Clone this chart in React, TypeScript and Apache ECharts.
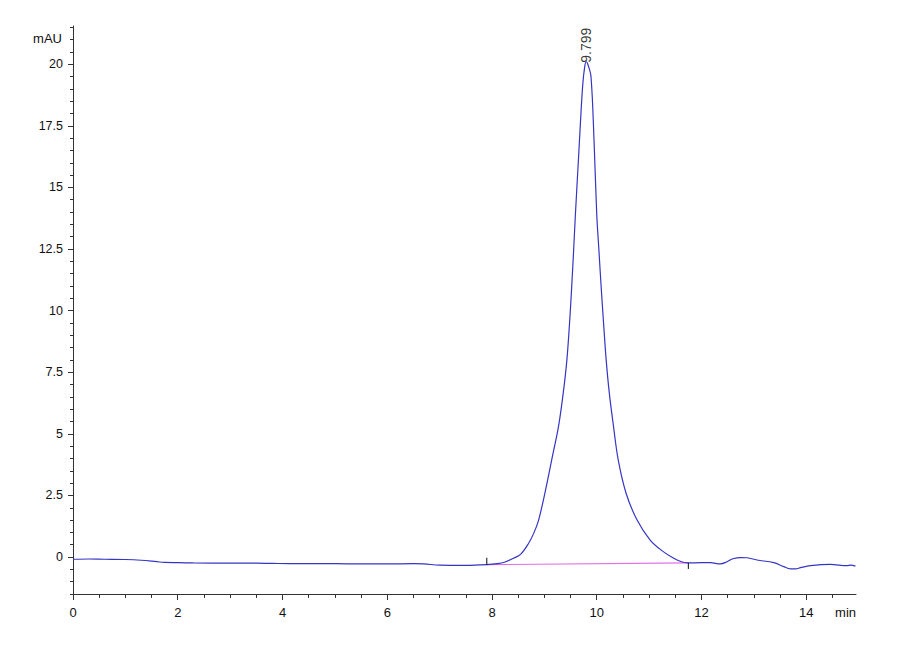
import React, { useEffect, useRef } from "react";
import * as echarts from "echarts";

// Retention time (min) and detector signal (mAU)
const times = [
  0.0, 0.3, 0.6, 1.0, 1.3, 1.6, 1.75, 2.0, 2.3, 3.0, 3.5, 3.8, 4.3, 5.0, 5.5, 6.0, 6.5, 6.7, 7.0, 7.5,
  7.9, 8.1, 8.25, 8.41, 8.55, 8.7, 8.8, 8.89, 9.01, 9.14, 9.27, 9.36, 9.43, 9.49, 9.525, 9.56, 9.59, 9.66,
  9.73, 9.77, 9.8, 9.83, 9.89, 9.95, 10.0, 10.04, 10.08, 10.13, 10.18, 10.24, 10.32, 10.41, 10.56, 10.77,
  11.02, 11.25, 11.47, 11.62, 11.75, 12.0, 12.17, 12.36, 12.49, 12.6, 12.75, 12.87, 13.06, 13.38, 13.57,
  13.7, 13.8, 13.89, 14.08, 14.46, 14.78, 14.85, 14.94,
];
const signal = [
  -0.09, -0.08, -0.09, -0.1, -0.13, -0.19, -0.22, -0.23, -0.24, -0.25, -0.25, -0.26, -0.27, -0.27, -0.28,
  -0.28, -0.27, -0.28, -0.33, -0.34, -0.31, -0.27, -0.2, -0.05, 0.12, 0.56, 0.98, 1.5, 2.59, 3.94, 5.3,
  6.65, 8.0, 9.8, 11.1, 12.5, 13.8, 16.5, 19.1, 19.9, 20.1, 20.0, 19.5, 16.8, 13.9, 12.5, 11.1, 9.5, 8.0,
  6.65, 5.3, 3.94, 2.59, 1.5, 0.69, 0.25, -0.05, -0.19, -0.24, -0.23, -0.23, -0.28, -0.19, -0.07, -0.02,
  -0.03, -0.12, -0.23, -0.39, -0.48, -0.48, -0.43, -0.35, -0.3, -0.35, -0.33, -0.37,
];

// Integration baseline (start / end) of the peak
const baselineTimes = [7.9, 11.75];
const baselineValues = [-0.31, -0.24];

// Peak annotation
const peakTime = 9.799;
const peakHeight = 20.1;
const peakLabel = "9.799";

// Axis ticks / labels
const xMajorTicks = [0, 2, 4, 6, 8, 10, 12, 14];
const yMajorTicks = [0, 2.5, 5, 7.5, 10, 12.5, 15, 17.5, 20];
const xMin = 0;
const xMax = 14.95;
const yMin = -1.5;
const yMax = 21.55;
const minorStep = 0.5;

const xMinorTicks: number[] = [];
for (let i = 0; xMin + i * minorStep <= xMax; i++) {
  const v = xMin + i * minorStep;
  if (!xMajorTicks.includes(v)) xMinorTicks.push(v);
}
const yMinorTicks: number[] = [];
for (let i = 0; yMin + i * minorStep <= yMax; i++) {
  const v = +(yMin + i * minorStep).toFixed(2);
  if (!yMajorTicks.includes(v)) yMinorTicks.push(v);
}

const FONT = "'Liberation Sans Narrow', 'Liberation Sans', Arial, sans-serif";
const LABEL_FONT = "'Liberation Sans', Arial, sans-serif";
const AXIS_COLOR = "#333";
const TEXT_COLOR = "#111";

export default function App() {
  const ref = useRef<HTMLDivElement>(null);

  useEffect(() => {
    document.body.style.margin = "0";
    if (!ref.current) return;
    const chart = echarts.init(ref.current, null, { renderer: "svg" });

    const lineData = times.map((t, i) => [t, signal[i]]);
    const baseData = baselineTimes.map((t, i) => [t, baselineValues[i]]);

    chart.setOption({
      animation: false,
      backgroundColor: "#fff",
      grid: { left: 73, right: 44, top: 26, bottom: 66 },
      xAxis: [
        {
          type: "value",
          min: xMin,
          max: xMax,
          position: "bottom",
          name: "min",
          nameLocation: "end",
          nameGap: 0,
          nameMoveOverlap: false,
          nameTextStyle: {
            color: TEXT_COLOR,
            fontFamily: FONT,
            fontSize: 13,
            align: "right",
            verticalAlign: "top",
            padding: [12, 0, 0, 0],
          },
          axisLine: { show: true, onZero: false, lineStyle: { color: AXIS_COLOR, width: 1 } },
          axisTick: { show: true, customValues: xMajorTicks, length: 6, lineStyle: { color: AXIS_COLOR } },
          axisLabel: { customValues: xMajorTicks, margin: 12, color: TEXT_COLOR, fontFamily: FONT, fontSize: 13 },
          splitLine: { show: false },
        },
        {
          type: "value",
          min: xMin,
          max: xMax,
          position: "bottom",
          axisLine: { show: false, onZero: false },
          axisTick: { show: true, customValues: xMinorTicks, length: 4, lineStyle: { color: AXIS_COLOR } },
          axisLabel: { show: false },
          splitLine: { show: false },
        },
      ],
      yAxis: [
        {
          type: "value",
          min: yMin,
          max: yMax,
          position: "left",
          name: "mAU",
          nameLocation: "end",
          nameGap: -12,
          nameMoveOverlap: false,
          nameTextStyle: {
            color: TEXT_COLOR,
            fontFamily: FONT,
            fontSize: 13,
            align: "right",
            verticalAlign: "middle",
            padding: [0, 11, 0, 0],
          },
          axisLine: { show: true, onZero: false, lineStyle: { color: AXIS_COLOR, width: 1 } },
          axisTick: { show: true, customValues: yMajorTicks, length: 5, lineStyle: { color: AXIS_COLOR } },
          axisLabel: { customValues: yMajorTicks, margin: 10, color: TEXT_COLOR, fontFamily: FONT, fontSize: 12.5 },
          splitLine: { show: false },
        },
        {
          type: "value",
          min: yMin,
          max: yMax,
          position: "left",
          axisLine: { show: false, onZero: false },
          axisTick: { show: true, customValues: yMinorTicks, length: 3, lineStyle: { color: AXIS_COLOR } },
          axisLabel: { show: false },
          splitLine: { show: false },
        },
      ],
      series: [
        {
          type: "line",
          data: baseData,
          symbol: "none",
          silent: true,
          lineStyle: { color: "#e46ee4", width: 1.2 },
          z: 2,
        },
        {
          type: "line",
          data: lineData,
          symbol: "none",
          silent: true,
          smooth: 0.35,
          lineStyle: { color: "#3535c4", width: 1.2 },
          z: 3,
        },
        {
          type: "scatter",
          data: [[baselineTimes[0], baselineValues[0]]],
          symbol: "rect",
          symbolSize: [1.2, 7],
          symbolOffset: [0, -3.5],
          itemStyle: { color: "#000" },
          silent: true,
          z: 4,
        },
        {
          type: "scatter",
          data: [[baselineTimes[1], baselineValues[1]]],
          symbol: "rect",
          symbolSize: [1.2, 6],
          symbolOffset: [0, 3],
          itemStyle: { color: "#000" },
          silent: true,
          z: 4,
        },
        {
          type: "scatter",
          data: [[peakTime, peakHeight]],
          symbolSize: 0.1,
          itemStyle: { color: "transparent" },
          silent: true,
          label: {
            show: true,
            formatter: peakLabel,
            position: "top",
            distance: -1,
            rotate: 90,
            align: "left",
            verticalAlign: "middle",
            color: "#000",
            fontFamily: LABEL_FONT,
            fontSize: 14,
          },
          z: 5,
        },
      ],
    });

    return () => chart.dispose();
  }, []);

  return <div ref={ref} style={{ width: 900, height: 660 }} />;
}
